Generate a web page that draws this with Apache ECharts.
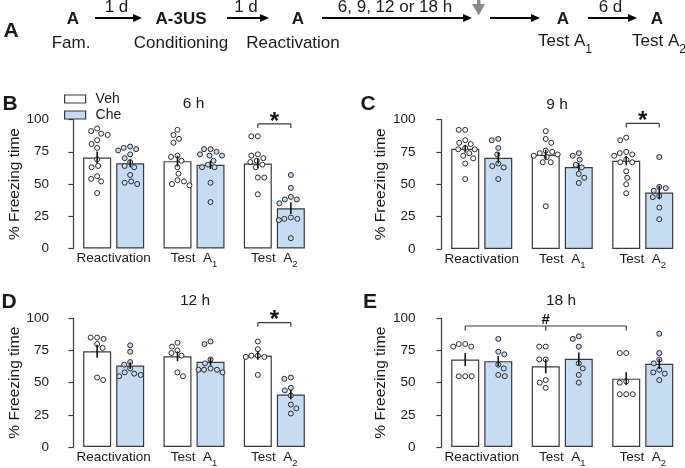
<!DOCTYPE html>
<html><head><meta charset="utf-8">
<script src="https://cdn.jsdelivr.net/npm/echarts@6/dist/echarts.min.js"></script>
<style>html,body{margin:0;padding:0;background:#fff}#c{width:685px;height:468px}</style>
</head><body><div id="c"></div>
<script>
// ---------------- DATA ----------------
const categories = ['Reactivation', 'Test A1', 'Test A2'];
const yTicks = [0, 25, 50, 75, 100];
const seriesNames = ['Veh', 'Che'];
const panelTitles = ['6 h', '9 h', '12 h', '18 h'];
const panelLetters = ['B', 'C', 'D', 'E'];

// 6 h
const vehMean6 = [70.6, 67.7, 65.8];
const cheMean6 = [66.0, 64.9, 31.2];
const vehSem6 = [4.5, 4.2, 3.6];
const cheSem6 = [3.0, 3.2, 4.5];
const vehDots6 = [
  [93, 91, 89, 88, 84, 81, 78, 69, 64, 63, 56, 54, 52, 43],
  [92, 88, 85, 82, 72, 71, 68, 63, 58, 53, 52, 50, 49],
  [87, 87, 73, 72, 70, 68, 67, 65, 63, 55, 55, 42]
];
const cheDots6 = [
  [79, 78, 77, 76, 73, 70, 67, 64, 63, 57, 52, 51, 50],
  [77, 77, 75, 73, 72, 72, 68, 65, 63, 63, 51, 36],
  [57, 47, 40, 38, 38, 35, 24, 23, 23, 22, 8]
];
// 9 h
const vehMean9 = [77.4, 72.8, 68.2];
const cheMean9 = [70.5, 63.3, 43.6];
const vehSem9 = [3.0, 3.9, 3.6];
const cheSem9 = [4.5, 3.0, 5.2];
const vehDots9 = [
  [92, 92, 84, 82, 81, 78, 77, 77, 74, 72, 70, 66, 54],
  [91, 85, 82, 76, 75, 74, 73, 72, 71, 67, 67, 33],
  [86, 84, 75, 74, 73, 72, 69, 67, 67, 60, 55, 50, 43]
];
const cheDots9 = [
  [85, 84, 78, 73, 66, 64, 63, 54],
  [74, 72, 69, 65, 63, 58, 55, 51],
  [71, 48, 47, 45, 41, 40, 32, 23]
];
// 12 h
const vehMean12 = [74.4, 70.5, 71.0];
const cheMean12 = [63.3, 66.2, 40.8];
const vehSem12 = [5.0, 3.8, 3.3];
const cheSem12 = [2.6, 3.0, 3.7];
const vehDots12 = [
  [85, 85, 84, 80, 77, 54, 52],
  [81, 78, 75, 73, 71, 58, 55],
  [82, 76, 71, 71, 70, 70, 56]
];
const cheDots12 = [
  [79, 74, 66, 64, 61, 58, 57, 56, 55],
  [82, 80, 68, 65, 61, 60, 60, 60, 58],
  [54, 53, 46, 44, 40, 33, 30, 26]
];
// 18 h
const vehMean18 = [68.0, 62.8, 53.1];
const cheMean18 = [66.7, 68.5, 64.6];
const vehSem18 = [5.0, 5.5, 5.0];
const cheSem18 = [4.0, 5.0, 4.0];
const vehDots18 = [
  [80, 78, 78, 80, 55, 55, 55],
  [78, 78, 68, 68, 52, 50, 46],
  [73, 73, 51, 50, 41, 41, 41]
];
const cheDots18 = [
  [84, 74, 72, 64, 61, 56, 55],
  [86, 84, 78, 65, 61, 56, 50],
  [88, 73, 68, 65, 60, 58, 57, 52]
];
// significance: bars referenced as [categoryIndex, seriesIndex]
const sig6 = { label: '*', bars: [[2, 0], [2, 1]] };
const sig9 = { label: '*', bars: [[2, 0], [2, 1]] };
const sig12 = { label: '*', bars: [[2, 0], [2, 1]] };
const sig18 = { label: '#', bars: [[0, 0], [1, 0], [2, 0]] };

// ---------------- LAYOUT / STYLE ----------------
const FONT = '"Liberation Sans", Arial, Helvetica, sans-serif';
const TXT = '#1a1a1a';
const AX = '#3a3a3a';
const CHE_FILL = '#c6dbf4';
const BAR_W = 28;
const BAR_GAP = 0.18;
const DOT = 5;

const panels = [
  { mean: [vehMean6, cheMean6], sem: [vehSem6, cheSem6], dots: [vehDots6, cheDots6], sig: sig6,
    grid: { left: 73.5, top: 119.5, width: 241, height: 129 }, axisOffset: 18.5, level: 96.6, tick: 4, starGap: 8 },
  { mean: [vehMean9, cheMean9], sem: [vehSem9, cheSem9], dots: [vehDots9, cheDots9], sig: sig9,
    grid: { left: 441.5, top: 119.5, width: 241.5, height: 129.5 }, axisOffset: 20, level: 97, tick: 4, starGap: 8 },
  { mean: [vehMean12, cheMean12], sem: [vehSem12, cheSem12], dots: [vehDots12, cheDots12], sig: sig12,
    grid: { left: 73.5, top: 318.3, width: 241, height: 130 }, axisOffset: 18.5, level: 96.6, tick: 4, starGap: 8 },
  { mean: [vehMean18, cheMean18], sem: [vehSem18, cheSem18], dots: [vehDots18, cheDots18], sig: sig18,
    grid: { left: 441.5, top: 318.3, width: 241.5, height: 130 }, axisOffset: 20, level: 94, tick: 4.5, starGap: 6 }
];
const titlePos = [[193.5, 104], [557, 105], [195, 301], [561, 301]];
const letterPos = [[10, 104], [368, 104], [9, 302], [370, 302]];

// beeswarm layout (pixel units) for dots
function swarm(values, pxPerUnit, diam, maxOff) {
  const placed = [];
  const res = new Array(values.length).fill(0);
  const order = values.map((v, i) => i).sort((a, b) => values[b] - values[a]);
  order.forEach((i, n) => {
    const y = values[i] * pxPerUnit;
    const pref = n % 2 === 0 ? 1 : -1;
    let chosen = null;
    for (let s = 0; s <= maxOff && chosen === null; s += 0.5) {
      for (const sg of [pref, -pref]) {
        const x = s * sg;
        if (placed.every(p => (p.x - x) ** 2 + (p.y - y) ** 2 >= diam * diam)) { chosen = x; break; }
      }
    }
    if (chosen === null) chosen = (n % 2 ? -1 : 1) * maxOff;
    placed.push({ x: chosen, y });
    res[i] = chosen;
  });
  return res;
}

const grids = [], xAxes = [], yAxes = [], series = [];

panels.forEach((P, p) => {
  grids.push(P.grid);
  const catPx = P.grid.width / categories.length;
  const barOff = (BAR_W * (1 + BAR_GAP) / 2) / catPx;
  const pxPerUnit = P.grid.height / 100;
  const xCenter = (g, s) => g + 0.5 + (s === 0 ? -1 : 1) * barOff;

  xAxes.push({
    type: 'category', gridIndex: p, data: categories, position: 'bottom',
    axisLine: { show: false }, axisTick: { show: false },
    axisLabel: {
      margin: 3, interval: 0,
      formatter: v => {
        const m = v.match(/^(.*) A(\d)$/);
        return m ? '{t|' + m[1] + '  A}{s|' + m[2] + '}' : '{t|' + v + '}';
      },
      rich: {
        t: { fontSize: 13.5, fontFamily: FONT, color: TXT, lineHeight: 16, verticalAlign: 'top' },
        s: { fontSize: 9.5, fontFamily: FONT, color: TXT, lineHeight: 10, padding: [8, 0, 0, 0], verticalAlign: 'top' }
      }
    }
  });
  xAxes.push({ type: 'value', gridIndex: p, min: 0, max: categories.length, show: false, position: 'top' });
  yAxes.push({
    type: 'value', gridIndex: p, min: yTicks[0], max: yTicks[yTicks.length - 1], interval: yTicks[1] - yTicks[0],
    offset: P.axisOffset,
    axisLine: { show: true, lineStyle: { color: AX, width: 1.2 } },
    axisTick: { show: true, length: 5, lineStyle: { color: AX, width: 1.2 } },
    splitLine: { show: false },
    axisLabel: { fontSize: 13.5, fontFamily: FONT, color: TXT, margin: 6 },
    name: '% Freezing time', nameLocation: 'middle', nameGap: 32,
    nameTextStyle: { fontSize: 15.5, fontFamily: FONT, color: TXT }
  });

  seriesNames.forEach((nm, s) => {
    series.push({
      type: 'bar', name: nm, xAxisIndex: 2 * p, yAxisIndex: p, data: P.mean[s],
      barWidth: BAR_W, barGap: (BAR_GAP * 100) + '%', z: 2, silent: true,
      itemStyle: { color: s === 0 ? '#ffffff' : CHE_FILL, borderColor: AX, borderWidth: 1.2 }
    });
  });
  seriesNames.forEach((nm, s) => {
    const pts = [];
    P.dots[s].forEach((vals, g) => {
      const offs = swarm(vals, pxPerUnit, DOT + 1.5, 12);
      vals.forEach((v, k) => pts.push([xCenter(g, s) + offs[k] / catPx, v]));
    });
    series.push({
      type: 'scatter', name: nm + ' points', xAxisIndex: 2 * p + 1, yAxisIndex: p, data: pts,
      symbol: 'circle', symbolSize: DOT, z: 4, silent: true,
      itemStyle: { color: s === 0 ? '#ffffff' : CHE_FILL, borderColor: '#2a2a2a', borderWidth: 1, opacity: 1 }
    });
  });
  // error bars
  const eb = [];
  seriesNames.forEach((nm, s) => P.mean[s].forEach((m, g) => eb.push([xCenter(g, s), m, P.sem[s][g]])));
  series.push({
    type: 'custom', name: 'sem', xAxisIndex: 2 * p + 1, yAxisIndex: p, data: eb, z: 5, silent: true,
    encode: { x: 0, y: 1 },
    renderItem: (params, api) => {
      const x = api.value(0), m = api.value(1), e = api.value(2);
      const a = api.coord([x, m - e]), b = api.coord([x, m + e]);
      return { type: 'line', shape: { x1: a[0], y1: a[1], x2: b[0], y2: b[1] }, style: { stroke: '#111', lineWidth: 1.6 } };
    }
  });
  // significance bracket
  const sg = P.sig;
  series.push({
    type: 'custom', name: 'sig', xAxisIndex: 2 * p + 1, yAxisIndex: p, data: [[1.5, P.level]], z: 6, silent: true, clip: false,
    encode: { x: 0, y: 1 },
    renderItem: (params, api) => {
      const pts = sg.bars.map(([g, s]) => api.coord([xCenter(g, s), P.level]));
      const st = { stroke: AX, lineWidth: 1.2 };
      const x0 = pts[0][0], x1 = pts[pts.length - 1][0], y = pts[0][1];
      const ch = [{ type: 'line', shape: { x1: x0, y1: y, x2: x1, y2: y }, style: st }];
      pts.forEach(q => ch.push({ type: 'line', shape: { x1: q[0], y1: y, x2: q[0], y2: y + P.tick }, style: st }));
      const star = sg.label === '*';
      ch.push({ type: 'text', x: (x0 + x1) / 2, y: y - (star ? 2 : P.starGap), style: {
        text: sg.label, fill: '#111', fontFamily: FONT, fontWeight: 'bold', fontSize: star ? 24 : 15,
        align: 'center', verticalAlign: 'middle' } });
      return { type: 'group', children: ch };
    }
  });
});

// ---------------- GRAPHICS (titles, letters, timeline) ----------------
const graphic = [];
function txt(x, y, text, size, bold, extra) {
  graphic.push({ type: 'text', x, y, silent: true, style: Object.assign({
    text, fill: TXT, fontFamily: FONT, fontSize: size, fontWeight: bold ? 'bold' : 'normal',
    align: 'center', verticalAlign: 'middle' }, extra || {}) });
}
panelTitles.forEach((t, i) => txt(titlePos[i][0], titlePos[i][1], t, 15.5, false));
panelLetters.forEach((t, i) => txt(letterPos[i][0], letterPos[i][1], t, 21, true));

// timeline (panel A)
const timelineSteps = ['A', 'A-3US', 'A', 'A', 'A'];
const timelineLabels = ['Fam.', 'Conditioning', 'Reactivation', 'Test A1', 'Test A2'];
const intervalLabels = ['1 d', '1 d', '6, 9, 12 or 18 h', '', '6 d'];
const stepX = [73, 181, 298, 563, 657];
const labelX = [71, 181, 293, 565, 659];
const arrows = [[95, 142], [227, 269], [322, 472], [490, 540], [588, 637]];
txt(11, 31, 'A', 21, true);
timelineSteps.forEach((t, i) => txt(stepX[i], 19.5, t, 17, true));
timelineLabels.forEach((t, i) => {
  const m = t.match(/^(.*) A(\d)$/);
  if (m) {
    txt(labelX[i], 43, '{t|' + m[1] + ' A}{s|' + m[2] + '}', 17, false, {
      rich: { t: { fontSize: 17, fontFamily: FONT, fill: TXT, lineHeight: 20, verticalAlign: 'top' },
              s: { fontSize: 12, fontFamily: FONT, fill: TXT, lineHeight: 12, padding: [11, 0, 0, 0], verticalAlign: 'top' } } });
  } else {
    txt(labelX[i], 43, t, 17, false);
  }
});
arrows.forEach(([a, b], i) => {
  const y = 18;
  graphic.push({ type: 'line', silent: true, shape: { x1: a, y1: y, x2: b - 7, y2: y }, style: { stroke: '#000', lineWidth: 2 } });
  graphic.push({ type: 'polygon', silent: true, shape: { points: [[b - 9, y - 4], [b, y], [b - 9, y + 4]] }, style: { fill: '#000' } });
  if (intervalLabels[i]) txt((a + b) / 2 - 2, 7.5, intervalLabels[i], 17, false);
});
// grey marker arrow
graphic.push({ type: 'rect', silent: true, shape: { x: 477, y: 0, width: 3.5, height: 5 }, style: { fill: '#8a8a8a' } });
graphic.push({ type: 'polygon', silent: true, shape: { points: [[472, 4], [485, 4], [478.7, 15.5]] }, style: { fill: '#8a8a8a' } });

const option = {
  animation: false,
  backgroundColor: '#ffffff',
  textStyle: { fontFamily: FONT },
  grid: grids, xAxis: xAxes, yAxis: yAxes, series,
  legend: {
    data: [
      { name: 'Veh', icon: 'rect', itemStyle: { color: '#ffffff', borderColor: AX, borderWidth: 1.2 } },
      { name: 'Che', icon: 'rect', itemStyle: { color: CHE_FILL, borderColor: AX, borderWidth: 1.2 } }
    ],
    left: 64, top: 91, orient: 'vertical', itemWidth: 21, itemHeight: 8, itemGap: 0, selectedMode: false,
    padding: 0,
    textStyle: { fontSize: 14, fontFamily: FONT, color: TXT, lineHeight: 16, padding: [0, 0, 0, 5] }
  },
  graphic
};
const chart = echarts.init(document.getElementById('c'), null, { renderer: 'canvas' });
chart.setOption(option);
</script></body></html>
